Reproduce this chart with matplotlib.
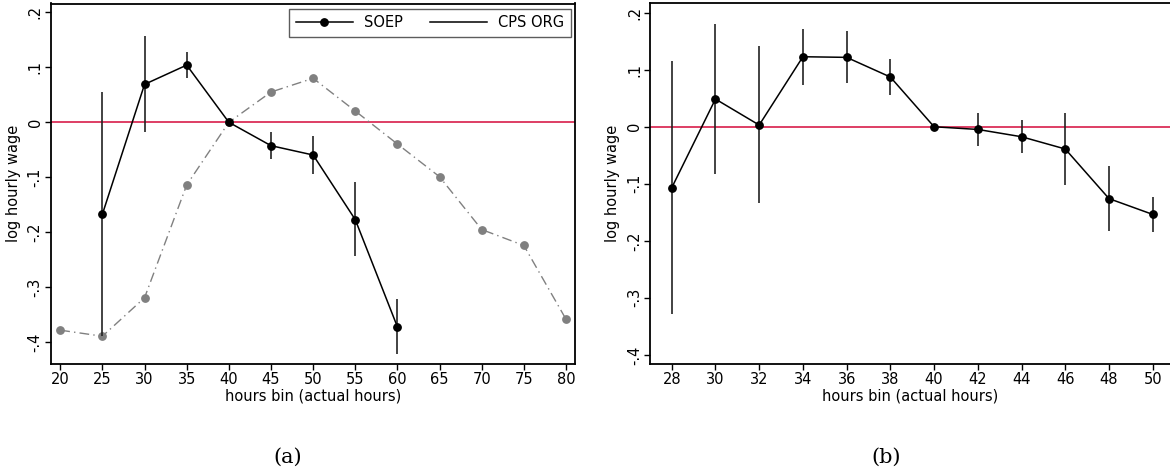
import matplotlib
matplotlib.use("Agg")
import matplotlib.pyplot as plt
from matplotlib.lines import Line2D
import numpy as np

plt.rcParams['font.family'] = ['DejaVu Sans']

# Panel (a) data
hours_a_soep = [25, 30, 35, 40, 45, 50, 55, 60]
soep_a = [-0.167, 0.069, 0.104, 0.0, -0.0425, -0.0595, -0.177, -0.372]
soep_a_lo = [-0.389, -0.017, 0.080, 0.0, -0.067, -0.0945, -0.244, -0.422]
soep_a_hi = [0.055, 0.156, 0.127, 0.0, -0.018, -0.025, -0.109, -0.321]

hours_a_cps = [20, 25, 30, 35, 40, 45, 50, 55, 60, 65, 70, 75, 80]
cps_a = [-0.378, -0.389, -0.319, -0.114, 0.0, 0.055, 0.080, 0.0205,
         -0.0395, -0.099, -0.195, -0.224, -0.358]

# Panel (b) data
hours_b = [28, 30, 32, 34, 36, 38, 40, 42, 44, 46, 48, 50]
soep_b = [-0.107, 0.0486, 0.003, 0.1228, 0.1217, 0.0872, 0.0, -0.0047,
          -0.0175, -0.039, -0.126, -0.1537]
soep_b_lo = [-0.329, -0.0825, -0.134, 0.0737, 0.077, 0.056, 0.0, -0.0333,
             -0.0468, -0.1018, -0.1825, -0.184]
soep_b_hi = [0.115, 0.180, 0.141, 0.172, 0.168, 0.118, 0.0, 0.024,
             0.011, 0.0235, -0.069, -0.124]

yticks = [-0.4, -0.3, -0.2, -0.1, 0.0, 0.1, 0.2]
ytick_labels = ['-.4', '-.3', '-.2', '-.1', '0', '.1', '.2']
xticks_a = [20, 25, 30, 35, 40, 45, 50, 55, 60, 65, 70, 75, 80]
xticks_b = [28, 30, 32, 34, 36, 38, 40, 42, 44, 46, 48, 50]

W, H = 1170, 474
fig = plt.figure(figsize=(W / 100, H / 100), dpi=100)

def px_axes(left, right, top, bottom):
    return [left / W, 1 - bottom / H, (right - left) / W, (bottom - top) / H]

ax1 = fig.add_axes(px_axes(51, 575, 3.5, 364))
ax2 = fig.add_axes(px_axes(650.3, 1170, 3.3, 364))

zero_color = '#D81E4A'
fs = 10.5

def style(ax, xticks, xlim, ylim):
    ax.set_xlim(*xlim)
    ax.set_ylim(*ylim)
    ax.set_xticks(xticks)
    ax.set_yticks(yticks)
    ax.set_yticklabels(ytick_labels, rotation=90, va='center')
    ax.tick_params(axis='both', labelsize=fs, length=4, width=1.0, direction='out', pad=2)
    for s in ax.spines.values():
        s.set_linewidth(1.3)
    ax.set_xlabel('hours bin (actual hours)', fontsize=fs, labelpad=1)
    ax.set_ylabel('log hourly wage', fontsize=fs, labelpad=5)
    ax.axhline(0, color=zero_color, lw=1.2, zorder=1)

# Panel (a)
style(ax1, xticks_a, (18.9, 81.07), (-0.4395, 0.216))
ax1.plot(hours_a_cps, cps_a, color='#808080', lw=1.0, ls=(0, (7, 3, 1, 3)),
         marker='o', ms=5.3, mec='#808080', mfc='#808080', zorder=2)
err_lo = np.array(soep_a) - np.array(soep_a_lo)
err_hi = np.array(soep_a_hi) - np.array(soep_a)
ax1.errorbar(hours_a_soep, soep_a, yerr=[err_lo, err_hi], fmt='none',
             ecolor='#222222', elinewidth=1.2, capsize=0, zorder=3)
ax1.plot(hours_a_soep, soep_a, color='black', lw=1.1, marker='o', ms=5.3, zorder=4)

handles = [Line2D([], [], color='black', lw=1.1, marker='o', ms=5.3),
           Line2D([], [], color='black', lw=1.1)]
leg = ax1.legend(handles, ['SOEP', 'CPS ORG'], loc='upper right', ncol=2,
                 fontsize=fs, frameon=True, fancybox=False, edgecolor='#333333',
                 handlelength=3.9, columnspacing=1.9, handletextpad=0.75,
                 borderpad=0.45, borderaxespad=0,
                 bbox_to_anchor=(0.9918, 0.985))
leg.get_frame().set_linewidth(1.0)

# Panel (b)
style(ax2, xticks_b, (27.02, 50.79), (-0.416, 0.2165))
ax2.spines['right'].set_visible(False)
err_lo_b = np.array(soep_b) - np.array(soep_b_lo)
err_hi_b = np.array(soep_b_hi) - np.array(soep_b)
ax2.errorbar(hours_b, soep_b, yerr=[err_lo_b, err_hi_b], fmt='none',
             ecolor='#222222', elinewidth=1.2, capsize=0, zorder=3)
ax2.plot(hours_b, soep_b, color='black', lw=1.1, marker='o', ms=5.3, zorder=4)

fig.text(288 / W, 1 - 457 / H, '(a)', family='DejaVu Serif', fontsize=15,
         ha='center', va='center')
fig.text(886 / W, 1 - 457 / H, '(b)', family='DejaVu Serif', fontsize=15,
         ha='center', va='center')

fig.savefig('out.png', dpi=100)
